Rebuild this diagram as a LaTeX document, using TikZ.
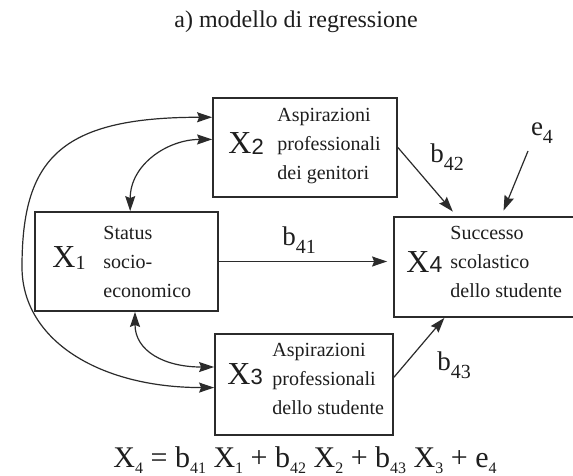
\documentclass[tikz,border=0pt]{standalone}
\usepackage{fontspec}
\setmainfont{Liberation Serif}
\newfontfamily\digsf{Liberation Sans}
\usepackage{xcolor}
\usepackage{tikz}
\usetikzlibrary{calc,arrows.meta}
\definecolor{inkc}{HTML}{2B2B2B}
\definecolor{textc}{HTML}{1E1E1E}
\tikzset{
  ar/.style={-{Stealth[length=7.5pt,width=5pt,inset=1pt]},line width=0.6pt,inkc},
  bar/.style={{Stealth[length=7.5pt,width=5pt,inset=1pt]}-{Stealth[length=7.5pt,width=5pt,inset=1pt]},line width=0.6pt,inkc},
  box/.style={draw=inkc,line width=0.9pt,rectangle,inner sep=0pt},
  txt/.style={anchor=west,align=left,inner sep=0pt,text=textc,font=\fontsize{10}{14.3}\selectfont},
  var/.style={anchor=base west,inner sep=0pt,text=textc,font=\fontsize{16}{16}\selectfont},
  coef/.style={inner sep=0pt,text=textc,font=\fontsize{13.5}{13.5}\selectfont}
}
\newcommand{\lsub}[3]{\raisebox{-#1pt}{\fontsize{#2}{#2}\selectfont #3}}

\begin{document}
\begin{tikzpicture}[x=0.5pt,y=-0.5pt]
\useasboundingbox (0,0) rectangle (573,476);
\fill[white] (0,0) rectangle (573,476);
\clip (0,0) rectangle (573,476);
% boxes
\node[box,minimum width=91.5pt,minimum height=49.5pt] (x1) at (126.5,261.5) {};
\node[box,minimum width=92pt,minimum height=49.5pt] (x2) at (305,147.5) {};
\node[box,minimum width=89pt,minimum height=50.5pt] (x3) at (304,384.5) {};
\node[box,minimum width=94pt,minimum height=50pt] (x4) at (488,267) {};
% box contents
\node[var] (x1v) at (52,267) {X\lsub{1.2}{10}{1}};
\node[var] (x2v) at (228,154) {X\lsub{0.3}{11}{\digsf 2}};
\node[var] (x3v) at (227,384) {X\lsub{0.3}{11}{\digsf 3}};
\node[var] (x4v) at (406,272) {X\lsub{0.3}{11.5}{\digsf 4}};
\node[txt] (x1t) at (103,262) {Status\\socio-\\economico};
\node[txt] (x2t) at (277,146) {Aspirazioni\\professionali\\dei genitori};
\node[txt] (x3t) at (272,379) {Aspirazioni\\professionali\\dello studente};
\node[txt] (x4t) at (450,262) {Successo\\scolastico\\dello studente};
% coefficients
\node[coef] (b41) at (299,240) {b\lsub{4}{10}{41}};
\node[coef] (b42) at (447,157) {b\lsub{4}{10}{42}};
\node[coef] (b43) at (454,365) {b\lsub{4}{10}{43}};
\node[coef] (e4) at (542,133) {e\lsub{4}{10}{4}};
\coordinate (e4s) at (528,151);
\coordinate (lm) at (22,267);
% paths
\draw[ar,shorten >=3pt] (x1.east) -- (x1.east -| x4.west);
\draw[ar,shorten >=3pt] (x2.east) -- ($(x4.north west)!0.335!(x4.north east)$);
\draw[ar,shorten >=3pt] (e4s) -- ($(x4.north west)!0.57!(x4.north east)$);
\draw[ar] ($(x3.north east)!0.43!(x3.south east)$) -- ($(x4.south west)!0.27!(x4.south east)$);
\draw[bar] ($(x1.north west)!0.52!(x1.north east)$) .. controls +(0,-47) and +(-44,0) .. ($(x2.north west)!0.42!(x2.south west)$);
\draw[bar] ($(x1.south west)!0.546!(x1.south east)$) .. controls +(0,39) and +(-50,0) .. ($(x3.north west)!0.33!(x3.south west)$);
\draw[bar] ($(x2.north west)!0.2!(x2.south west)$) .. controls +(-153,0) and +(0,-107) .. (lm) .. controls +(0,73) and +(-115,0) .. ($(x3.north west)!0.53!(x3.south west)$);
% title and equation
\node[text=textc,font=\fontsize{12}{12}\selectfont] (ttl) at (296,22) {a) modello di regressione};
\node[text=textc,font=\fontsize{15}{15}\selectfont] (eqn) at (305,460) {X\lsub{3}{8}{4} = b\lsub{3}{8}{41} X\lsub{3}{8}{1} + b\lsub{3}{8}{42} X\lsub{3}{8}{2} + b\lsub{3}{8}{43} X\lsub{3}{8}{3} + e\lsub{3}{8}{4}};
\end{tikzpicture}
\end{document}
